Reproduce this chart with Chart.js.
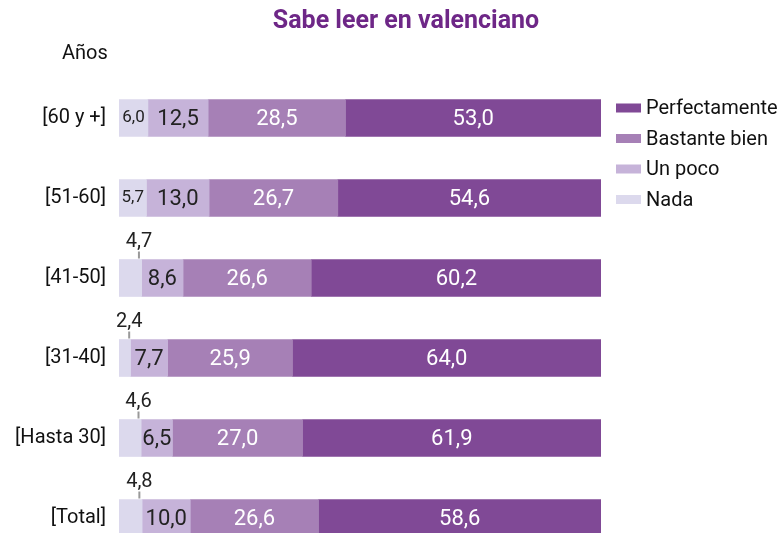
<!DOCTYPE html>
<html>
<head>
<meta charset="utf-8">
<script src="https://cdn.jsdelivr.net/npm/chart.js@4/dist/chart.umd.min.js"></script>
<style>
  html, body { margin: 0; padding: 0; background: #fff; overflow: hidden; }
  #wrap { width: 778px; height: 533px; }
</style>
</head>
<body>
<div id="wrap"><canvas id="chart" width="778" height="533"></canvas></div>
<script>
const categories = ["[60 y +]", "[51-60]", "[41-50]", "[31-40]", "[Hasta 30]", "[Total]"];
const nada = [6.0, 5.7, 4.7, 2.4, 4.6, 4.8];
const unPoco = [12.5, 13.0, 8.6, 7.7, 6.5, 10.0];
const bastanteBien = [28.5, 26.7, 26.6, 25.9, 27.0, 26.6];
const perfectamente = [53.0, 54.6, 60.2, 64.0, 61.9, 58.6];

const FONT = "Roboto, 'Liberation Sans', sans-serif";

const fmt = v => v.toFixed(1).replace(".", ",");

// the last band runs past the bottom edge in the reference
const stretch = {
  id: "stretch",
  afterLayout(chart) {
    const y = chart.scales.y;
    y.bottom = 558;
    y.height = y.bottom - y.top;
    y.configure();
    chart.chartArea.bottom = 558;
    chart.chartArea.height = 558 - chart.chartArea.top;
  }
};

// labels on the bars, title, "Años" and the legend on the right
const decor = {
  id: "decor",
  afterDatasetsDraw(chart) {
    const ctx = chart.ctx;
    ctx.save();
    ctx.textAlign = "center";
    ctx.textBaseline = "middle";
    chart.data.datasets.forEach((ds, di) => {
      const meta = chart.getDatasetMeta(di);
      meta.data.forEach((bar, i) => {
        const v = ds.data[i];
        const left = Math.min(bar.x, bar.base);
        const w = Math.abs(bar.x - bar.base);
        const cx = left + w / 2;
        if (di === 0) {
          if (v >= 5.5) {
            ctx.font = "17px " + FONT;
            ctx.fillStyle = "#222";
            ctx.fillText(fmt(v), cx, bar.y);
          } else {
            const top = bar.y - bar.height / 2;
            const lx = left + w * 0.88;
            ctx.strokeStyle = "#999";
            ctx.lineWidth = 2;
            ctx.beginPath();
            ctx.moveTo(lx, top - 8);
            ctx.lineTo(lx, top - 1);
            ctx.stroke();
            ctx.font = "20px " + FONT;
            ctx.fillStyle = "#222";
            ctx.fillText(fmt(v), lx, top - 18);
          }
        } else {
          ctx.font = "22px " + FONT;
          ctx.fillStyle = di === 1 ? "#222" : "#fff";
          ctx.fillText(fmt(v), cx, bar.y + 1);
        }
      });
    });
    ctx.restore();
  },
  afterDraw(chart) {
    const ctx = chart.ctx;
    ctx.save();
    ctx.textBaseline = "middle";
    ctx.textAlign = "center";
    ctx.fillStyle = "#6e2787";
    ctx.font = "bold 25px " + FONT;
    ctx.fillText("Sabe leer en valenciano", 406, 22);

    ctx.textAlign = "left";
    ctx.fillStyle = "#111";
    ctx.font = "20px " + FONT;
    ctx.fillText("Años", 62, 54);

    const items = chart.data.datasets.slice().reverse();
    items.forEach((ds, k) => {
      const y = 108 + k * 30.5;
      ctx.fillStyle = ds.backgroundColor;
      ctx.fillRect(616, y - 4.5, 25, 9);
      ctx.fillStyle = "#111";
      ctx.font = "20px " + FONT;
      ctx.fillText(ds.label, 646, y + 1);
    });
    ctx.restore();
  }
};

new Chart(document.getElementById("chart"), {
  type: "bar",
  data: {
    labels: categories,
    datasets: [
      { label: "Nada", data: nada, backgroundColor: "#dcd9ed" },
      { label: "Un poco", data: unPoco, backgroundColor: "#c6b3d9" },
      { label: "Bastante bien", data: bastanteBien, backgroundColor: "#a680b6" },
      { label: "Perfectamente", data: perfectamente, backgroundColor: "#804996" }
    ]
  },
  options: {
    indexAxis: "y",
    responsive: false,
    animation: false,
    devicePixelRatio: 1,
    datasets: { bar: { barThickness: 37, borderWidth: 0 } },
    layout: { padding: { left: 0, top: 78, right: 177, bottom: 0 } },
    scales: {
      x: { stacked: true, min: 0, max: 100, display: false },
      y: {
        stacked: true,
        grid: { display: false, drawTicks: false },
        border: { display: false },
        ticks: { color: "#111", font: { family: FONT, size: 20 }, padding: 13 },
        afterFit(scale) { scale.width = 119; }
      }
    },
    plugins: {
      legend: { display: false },
      title: { display: false },
      tooltip: { enabled: false }
    }
  },
  plugins: [stretch, decor]
});
</script>
</body>
</html>
